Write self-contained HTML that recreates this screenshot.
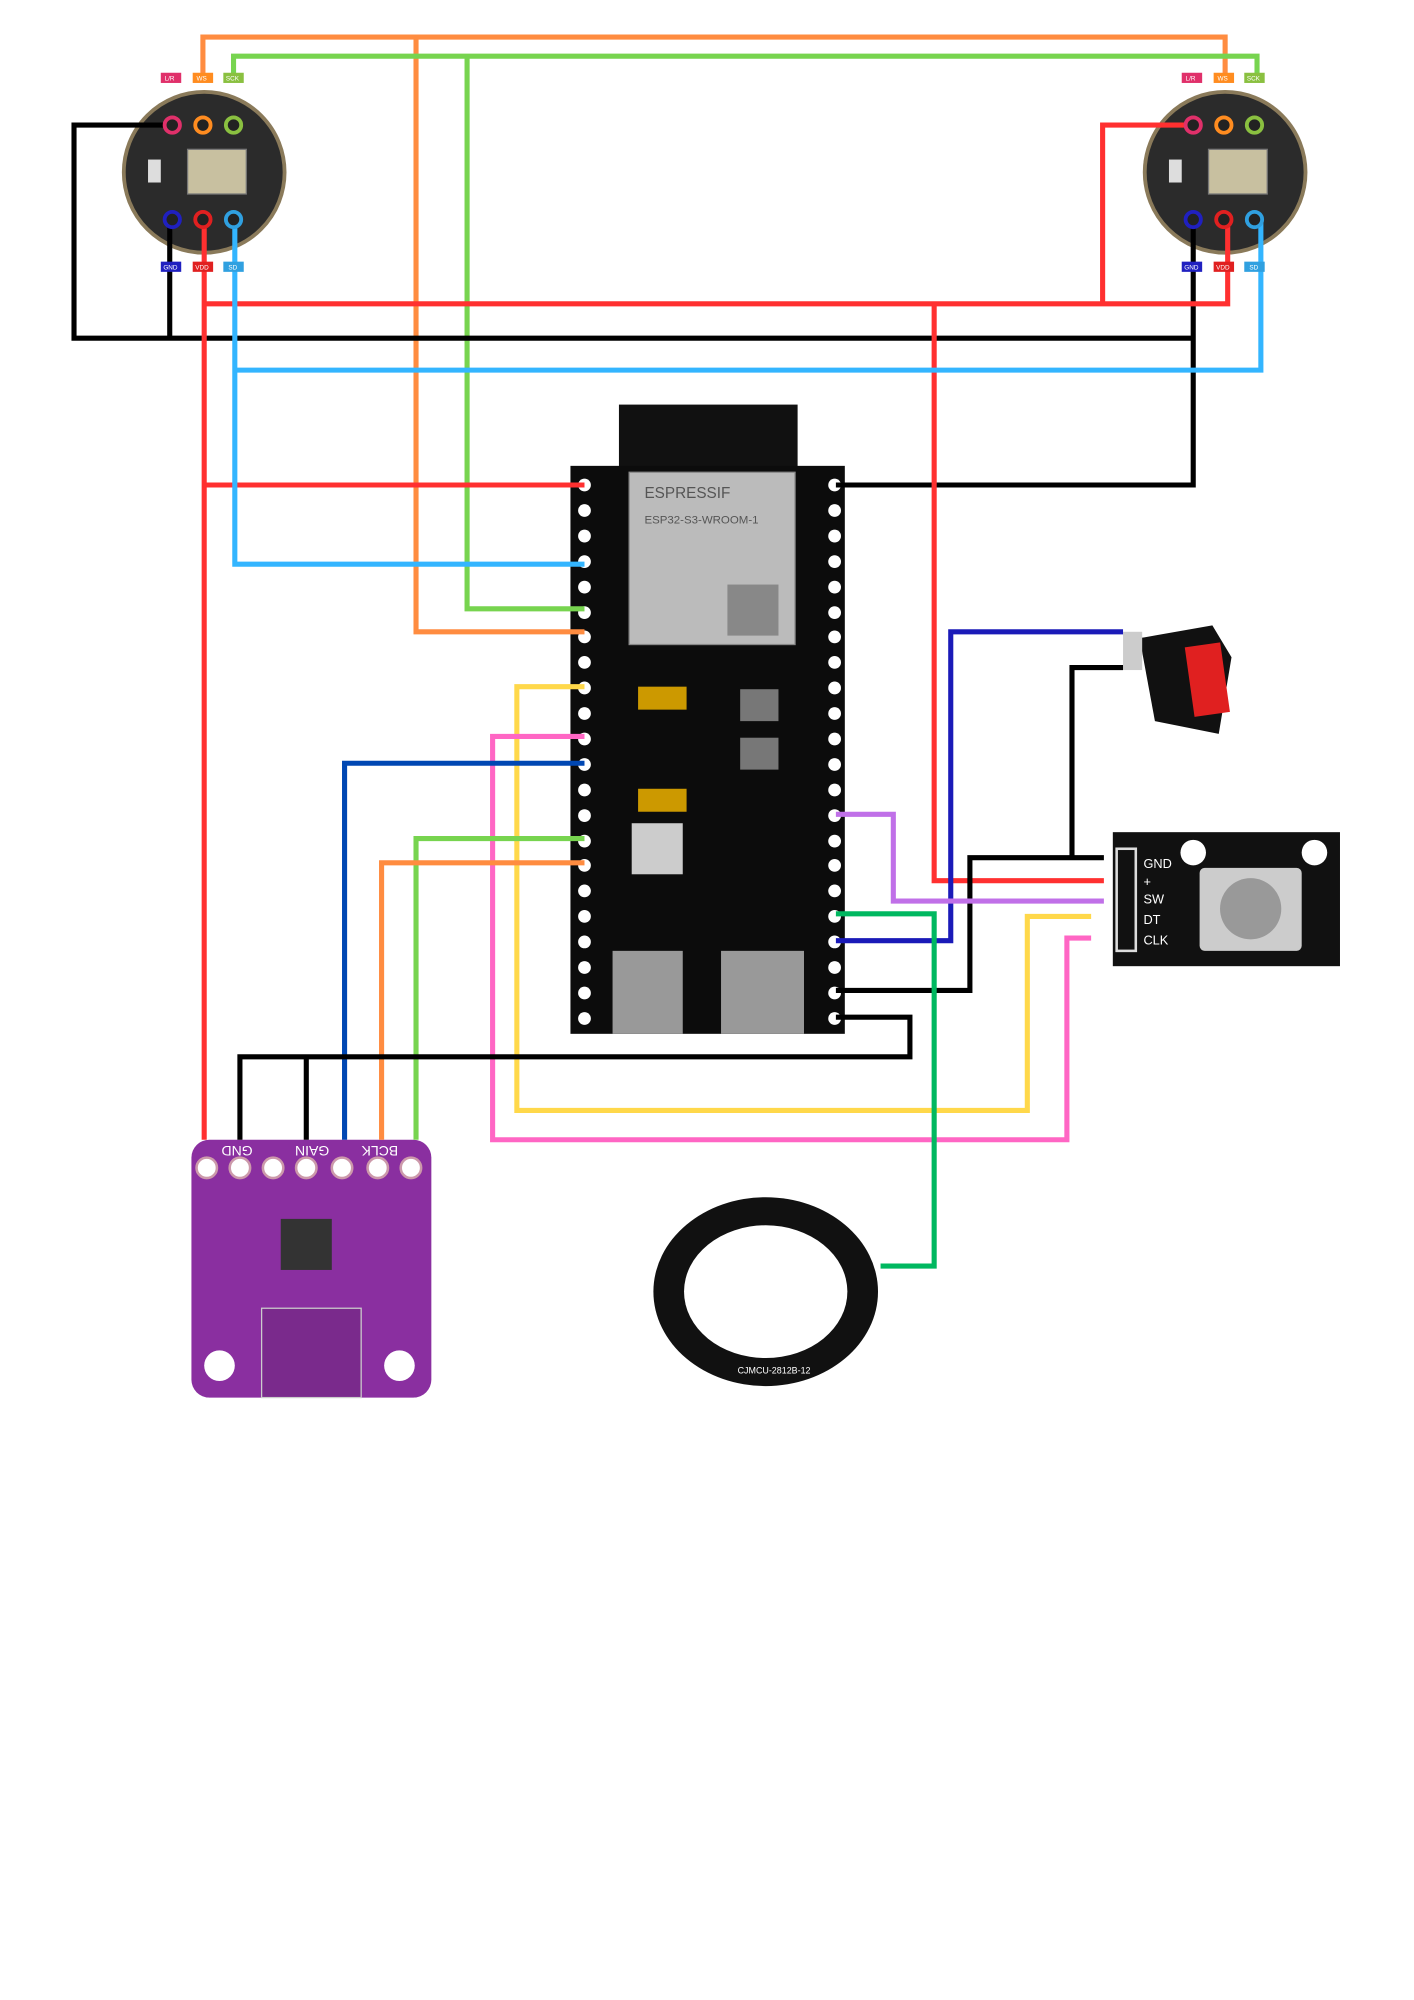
<!DOCTYPE html>
<html><head><meta charset="utf-8"><style>
html,body{margin:0;padding:0;background:#fff}
svg{display:block}
text{font-family:"Liberation Sans",sans-serif}
</style></head><body>
<svg width="1414" height="2000" viewBox="0 0 1108 1567" preserveAspectRatio="none" xmlns="http://www.w3.org/2000/svg">
<rect width="1108" height="1567" fill="#fff"/>
<g>
<circle cx="160" cy="135" r="63" fill="#2b2b2b" stroke="#8a7a5a" stroke-width="3"/>
<rect x="147" y="117" width="46" height="35" fill="#c8c0a0" stroke="#777"/>
<rect x="116" y="125" width="10" height="18" fill="#ddd"/>
</g>
<g>
<circle cx="960" cy="135" r="63" fill="#2b2b2b" stroke="#8a7a5a" stroke-width="3"/>
<rect x="947" y="117" width="46" height="35" fill="#c8c0a0" stroke="#777"/>
<rect x="916" y="125" width="10" height="18" fill="#ddd"/>
</g>
<rect x="485" y="317" width="140" height="52" fill="#111"/>
<rect x="447" y="365" width="215" height="445" fill="#0c0c0c"/>
<rect x="493" y="370" width="130" height="135" fill="#bbb" stroke="#888"/>
<text x="505" y="390" font-size="12" fill="#555">ESPRESSIF</text>
<text x="505" y="410" font-size="9" fill="#555">ESP32-S3-WROOM-1</text>
<rect x="570" y="458" width="40" height="40" fill="#888"/>
<rect x="480" y="745" width="55" height="65" fill="#999"/>
<rect x="565" y="745" width="65" height="65" fill="#999"/>
<rect x="500" y="538" width="38" height="18" fill="#c90"/>
<rect x="500" y="618" width="38" height="18" fill="#c90"/>
<rect x="580" y="540" width="30" height="25" fill="#777"/>
<rect x="580" y="578" width="30" height="25" fill="#777"/>
<rect x="495" y="645" width="40" height="40" fill="#ccc"/>
<g fill="#fff">
<circle cx="458" cy="380" r="5"/><circle cx="458" cy="400" r="5"/><circle cx="458" cy="420" r="5"/><circle cx="458" cy="440" r="5"/><circle cx="458" cy="460" r="5"/><circle cx="458" cy="480" r="5"/><circle cx="458" cy="499" r="5"/><circle cx="458" cy="519" r="5"/><circle cx="458" cy="539" r="5"/><circle cx="458" cy="559" r="5"/><circle cx="458" cy="579" r="5"/><circle cx="458" cy="599" r="5"/><circle cx="458" cy="619" r="5"/><circle cx="458" cy="639" r="5"/><circle cx="458" cy="659" r="5"/><circle cx="458" cy="678" r="5"/><circle cx="458" cy="698" r="5"/><circle cx="458" cy="718" r="5"/><circle cx="458" cy="738" r="5"/><circle cx="458" cy="758" r="5"/><circle cx="458" cy="778" r="5"/><circle cx="458" cy="798" r="5"/>
<circle cx="654" cy="380" r="5"/><circle cx="654" cy="400" r="5"/><circle cx="654" cy="420" r="5"/><circle cx="654" cy="440" r="5"/><circle cx="654" cy="460" r="5"/><circle cx="654" cy="480" r="5"/><circle cx="654" cy="499" r="5"/><circle cx="654" cy="519" r="5"/><circle cx="654" cy="539" r="5"/><circle cx="654" cy="559" r="5"/><circle cx="654" cy="579" r="5"/><circle cx="654" cy="599" r="5"/><circle cx="654" cy="619" r="5"/><circle cx="654" cy="639" r="5"/><circle cx="654" cy="659" r="5"/><circle cx="654" cy="678" r="5"/><circle cx="654" cy="698" r="5"/><circle cx="654" cy="718" r="5"/><circle cx="654" cy="738" r="5"/><circle cx="654" cy="758" r="5"/><circle cx="654" cy="778" r="5"/><circle cx="654" cy="798" r="5"/>
</g>
<rect x="150" y="893" width="188" height="202" rx="14" fill="#8a2fa0"/>
<circle cx="172" cy="1070" r="12" fill="#fff"/><circle cx="313" cy="1070" r="12" fill="#fff"/>
<rect x="205" y="1025" width="78" height="70" fill="#7a2a8c" stroke="#ccc"/>
<rect x="220" y="955" width="40" height="40" fill="#333"/>
<g fill="#fff" stroke="#c9a" stroke-width="2"><circle cx="162" cy="915" r="8"/><circle cx="188" cy="915" r="8"/><circle cx="214" cy="915" r="8"/><circle cx="240" cy="915" r="8"/><circle cx="268" cy="915" r="8"/><circle cx="296" cy="915" r="8"/><circle cx="322" cy="915" r="8"/></g>
<g font-size="11" fill="#fff">
<text transform="translate(198,898) rotate(180)">GND</text>
<text transform="translate(258,898) rotate(180)">GAIN</text>
<text transform="translate(312,898) rotate(180)">BCLK</text>
</g>
<ellipse cx="600" cy="1012" rx="88" ry="74" fill="#111"/>
<ellipse cx="600" cy="1012" rx="64" ry="52" fill="#fff"/>
<text x="578" y="1076" font-size="7" fill="#fff">CJMCU-2812B-12</text>
<rect x="872" y="652" width="178" height="105" fill="#111"/>
<circle cx="935" cy="668" r="10" fill="#fff"/><circle cx="1030" cy="668" r="10" fill="#fff"/>
<rect x="940" y="680" width="80" height="65" rx="4" fill="#ccc"/>
<circle cx="980" cy="712" r="24" fill="#999"/>
<rect x="875" y="665" width="15" height="80" fill="none" stroke="#ddd" stroke-width="2"/>
<g font-size="10" fill="#fff"><text x="896" y="680">GND</text><text x="896" y="694">+</text><text x="896" y="708">SW</text><text x="896" y="724">DT</text><text x="896" y="740">CLK</text></g>
<polygon points="893,500 950,490 965,515 955,575 905,565" fill="#111"/>
<rect x="932" y="505" width="28" height="55" fill="#e02020" transform="rotate(-8 946 532)"/>
<rect x="880" y="495" width="15" height="30" fill="#ccc"/>
<g fill="none" stroke-width="4" stroke-linejoin="miter">
<path d="M159 60V29H960V60" stroke="#ff8c40"/>
<path d="M326 29V495H458" stroke="#ff8c40"/>
<path d="M183 60V44H985V60" stroke="#77d44f"/>
<path d="M366 44V477H458" stroke="#77d44f"/>
<path d="M133 98H58V265H935" stroke="#000"/>
<path d="M133 172V265" stroke="#000"/>
<path d="M935 172V380H655" stroke="#000"/>
<path d="M160 172V893" stroke="#ff3030"/>
<path d="M160 238H962V172" stroke="#ff3030"/>
<path d="M935 98H864V238" stroke="#ff3030"/>
<path d="M160 380H458" stroke="#ff3030"/>
<path d="M732 238V690H865" stroke="#ff3030"/>
<path d="M184 172V442H458" stroke="#33b5ff"/>
<path d="M184 290H988V172" stroke="#33b5ff"/>
<path d="M458 538H405V870H805V718H855" stroke="#ffd84a"/>
<path d="M458 577H386V893H836V735H855" stroke="#ff66c4"/>
<path d="M458 598H270V893" stroke="#0047b3"/>
<path d="M458 657H326V893" stroke="#77d44f"/>
<path d="M458 676H299V893" stroke="#ff8c40"/>
<path d="M655 797H713V828H188V893" stroke="#000"/>
<path d="M240 828V893" stroke="#000"/>
<path d="M655 776H760V672H865" stroke="#000"/>
<path d="M880 523H840V672" stroke="#000"/>
<path d="M655 737H745V495H880" stroke="#1a1ab8"/>
<path d="M655 638H700V706H865" stroke="#c070e8"/>
<path d="M655 716H732V992H690" stroke="#00b860"/>
</g>
<g stroke-width="3" fill="#222">
<circle cx="135" cy="98" r="6" stroke="#e0306a"/><circle cx="159" cy="98" r="6" stroke="#ff8c20"/><circle cx="183" cy="98" r="6" stroke="#8ac040"/>
<circle cx="135" cy="172" r="6" stroke="#2020c0"/><circle cx="159" cy="172" r="6" stroke="#e02020"/><circle cx="183" cy="172" r="6" stroke="#30a0e0"/>
<circle cx="935" cy="98" r="6" stroke="#e0306a"/><circle cx="959" cy="98" r="6" stroke="#ff8c20"/><circle cx="983" cy="98" r="6" stroke="#8ac040"/>
<circle cx="935" cy="172" r="6" stroke="#2020c0"/><circle cx="959" cy="172" r="6" stroke="#e02020"/><circle cx="983" cy="172" r="6" stroke="#30a0e0"/>
</g>
<g font-size="5" fill="#fff">
<rect x="126" y="57" width="16" height="8" fill="#e0306a"/><rect x="151" y="57" width="16" height="8" fill="#ff8c20"/><rect x="175" y="57" width="16" height="8" fill="#8ac040"/>
<rect x="126" y="205" width="16" height="8" fill="#2020c0"/><rect x="151" y="205" width="16" height="8" fill="#e02020"/><rect x="175" y="205" width="16" height="8" fill="#30a0e0"/>
<rect x="926" y="57" width="16" height="8" fill="#e0306a"/><rect x="951" y="57" width="16" height="8" fill="#ff8c20"/><rect x="975" y="57" width="16" height="8" fill="#8ac040"/>
<rect x="926" y="205" width="16" height="8" fill="#2020c0"/><rect x="951" y="205" width="16" height="8" fill="#e02020"/><rect x="975" y="205" width="16" height="8" fill="#30a0e0"/>
<text x="129" y="63">L/R</text><text x="154" y="63">WS</text><text x="177" y="63">SCK</text>
<text x="128" y="211">GND</text><text x="153" y="211">VDD</text><text x="179" y="211">SD</text>
<text x="929" y="63">L/R</text><text x="954" y="63">WS</text><text x="977" y="63">SCK</text>
<text x="928" y="211">GND</text><text x="953" y="211">VDD</text><text x="979" y="211">SD</text>
</g>
</svg>
</body></html>
